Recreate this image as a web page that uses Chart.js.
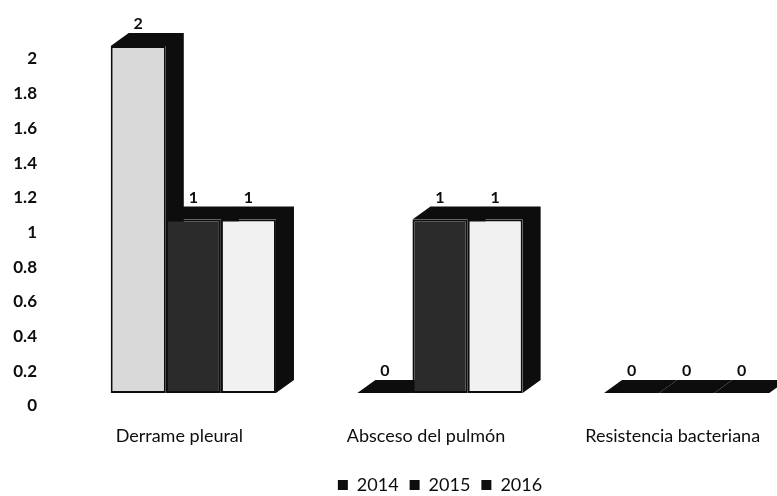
<!DOCTYPE html>
<html lang="es">
<head>
<meta charset="UTF-8">
<title>Complicaciones</title>
<script src="https://cdn.jsdelivr.net/npm/chart.js"></script>
<style>
  html, body { margin: 0; padding: 0; background: #fff; overflow: hidden; }
  #wrap { width: 777px; height: 496px; overflow: hidden; }
</style>
</head>
<body>
<div id="wrap"><canvas id="chart" width="830" height="496" style="width:830px;height:496px"></canvas></div>
<script>
const categories = ['Derrame pleural', 'Absceso del pulmón', 'Resistencia bacteriana'];
const years = ['2014', '2015', '2016'];
const values2014 = [2, 0, 0];
const values2015 = [1, 1, 0];
const values2016 = [1, 1, 0];
const yTicks = [0, 0.2, 0.4, 0.6, 0.8, 1, 1.2, 1.4, 1.6, 1.8, 2];
const yTickLabels = ['0', '0.2', '0.4', '0.6', '0.8', '1', '1.2', '1.4', '1.6', '1.8', '2'];

const ink = '#0d0d0d';
const family = 'Lato, "DejaVu Sans", sans-serif';
const font = { family: family, size: 18 };
const depth = { x: 18, y: -13 };

// side and top faces, drawn before the fronts so later bars cover them
const bar3d = {
    id: 'bar3d',
    beforeDatasetsDraw(chart) {
        const ctx = chart.ctx;
        ctx.save();
        ctx.fillStyle = ink;
        chart.data.datasets.forEach((ds, i) => {
            chart.getDatasetMeta(i).data.forEach(bar => {
                const p = bar.getProps(['x', 'y', 'base', 'width'], true);
                const l = p.x - p.width / 2, r = p.x + p.width / 2;
                ctx.beginPath();
                ctx.moveTo(l, p.y);
                ctx.lineTo(l + depth.x, p.y + depth.y);
                ctx.lineTo(r + depth.x, p.y + depth.y);
                ctx.lineTo(r + depth.x, p.base + depth.y);
                ctx.lineTo(r, p.base);
                ctx.lineTo(r, p.y);
                ctx.closePath();
                ctx.fill();
            });
        });
        ctx.restore();
    },
    afterDatasetsDraw(chart) {
        const ctx = chart.ctx;
        ctx.save();
        ctx.fillStyle = ink;
        ctx.font = 'bold 16px ' + family;
        ctx.textAlign = 'center';
        ctx.textBaseline = 'alphabetic';
        chart.data.datasets.forEach((ds, i) => {
            chart.getDatasetMeta(i).data.forEach((bar, j) => {
                const p = bar.getProps(['x', 'y'], true);
                ctx.fillText(String(ds.data[j]), p.x, p.y + depth.y - 4);
            });
        });
        ctx.restore();
    }
};

new Chart(document.getElementById('chart'), {
    type: 'bar',
    data: {
        labels: categories,
        datasets: [
            { label: years[0], data: values2014, backgroundColor: '#d9d9d9' },
            { label: years[1], data: values2015, backgroundColor: '#2b2b2b' },
            { label: years[2], data: values2016, backgroundColor: '#f1f1f1' }
        ]
    },
    options: {
        responsive: false,
        animation: false,
        layout: { padding: { left: 12, right: 20, top: 46, bottom: -8 } },
        datasets: {
            bar: {
                barPercentage: 1,
                categoryPercentage: 0.67,
                borderWidth: 2,
                borderColor: ink,
                borderSkipped: false
            }
        },
        plugins: {
            tooltip: { enabled: false },
            legend: {
                position: 'bottom',
                fullSize: false,
                labels: {
                    color: ink,
                    font: font,
                    boxWidth: 10,
                    boxHeight: 10,
                    padding: 11,
                    generateLabels(chart) {
                        return Chart.defaults.plugins.legend.labels.generateLabels(chart).map(l => {
                            l.fillStyle = ink;
                            l.strokeStyle = ink;
                            l.lineWidth = 0;
                            return l;
                        });
                    }
                }
            }
        },
        scales: {
            x: {
                grid: { display: false, drawTicks: false },
                border: { display: false },
                ticks: { color: ink, font: font, padding: 32, labelOffset: -14, maxRotation: 0 },
                afterFit(s) { s.height = 72; }
            },
            y: {
                min: 0,
                max: 2,
                grid: { display: false, drawTicks: false },
                border: { display: false },
                afterBuildTicks(s) { s.ticks = yTicks.map(v => ({ value: v })); },
                ticks: {
                    color: ink,
                    font: { family: family, size: 17, weight: 'bold' },
                    padding: 33,
                    labelOffset: 13,
                    callback: (v, i) => yTickLabels[i]
                },
                afterFit(s) { s.width = 58; }
            }
        }
    },
    plugins: [bar3d]
});
</script>
</body>
</html>
